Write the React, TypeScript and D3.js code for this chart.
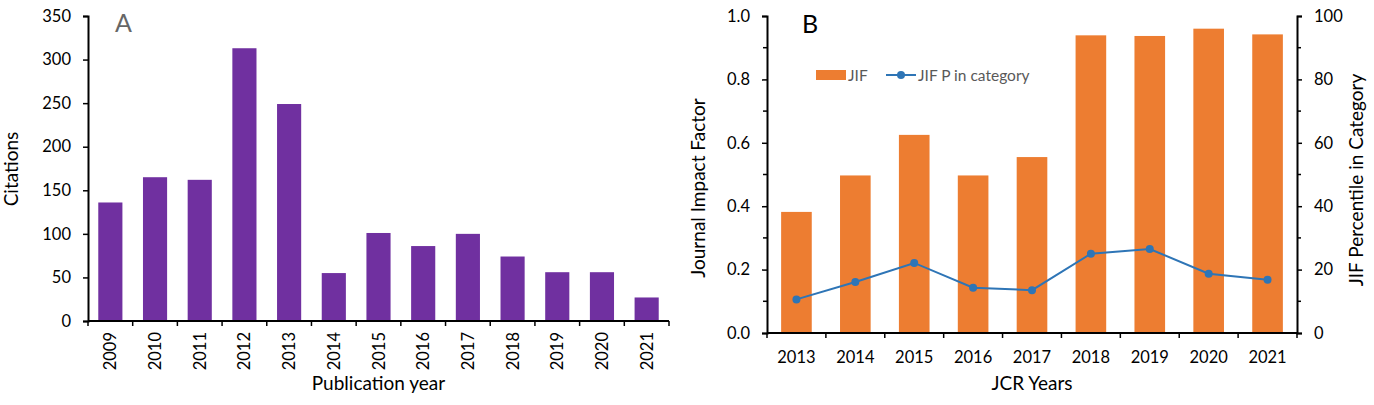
import React, { useRef, useEffect } from 'react';
import { select, scaleBand, scaleLinear, axisLeft, axisRight, line, range, format } from 'd3';

// panel A
const pubYears = ['2009', '2010', '2011', '2012', '2013', '2014', '2015', '2016', '2017', '2018', '2019', '2020', '2021'];
const citations = [136, 165, 162, 313, 249, 55, 101, 86, 100, 74, 56, 56, 27];
const citationTicks = [0, 50, 100, 150, 200, 250, 300, 350];

// panel B
const jcrYears = ['2013', '2014', '2015', '2016', '2017', '2018', '2019', '2020', '2021'];
const jif = [0.382, 0.497, 0.625, 0.497, 0.555, 0.939, 0.937, 0.96, 0.942];
const jifPercentile = [10.6, 16.1, 22.1, 14.3, 13.5, 25.0, 26.5, 18.7, 16.8];
const jifTicks = [0, 0.2, 0.4, 0.6, 0.8, 1.0];
const pctTicks = [0, 20, 40, 60, 80, 100];

const FONT = 'Lato, "Open Sans", sans-serif';
const PURPLE = '#7030A0';
const ORANGE = '#ED7D31';
const BLUE = '#2E75B6';
const TICK_FS = 16.5;

const App: React.FC = () => {
  const svgRef = useRef<SVGSVGElement | null>(null);

  useEffect(() => {
    if (!svgRef.current) return;
    const svg = select(svgRef.current);
    svg.selectAll('*').remove();

    // ---------- A ----------
    const gA = svg.append('g');
    const xA = scaleBand<string>().domain(pubYears).range([88, 669]).paddingInner(0.46).paddingOuter(0.23);
    const yA = scaleLinear().domain([0, 350]).range([321, 16]);

    gA.selectAll('rect.bar')
      .data(pubYears)
      .join('rect')
      .attr('class', 'bar')
      .attr('x', d => xA(d)!)
      .attr('width', xA.bandwidth())
      .attr('y', (d, i) => yA(citations[i]))
      .attr('height', (d, i) => yA(0) - yA(citations[i]))
      .attr('fill', PURPLE);

    const axA = gA.append('g')
      .attr('transform', `translate(88,0)`)
      .call(axisLeft(yA).tickValues(citationTicks).tickSize(5).tickPadding(12));
    axA.select('.domain').attr('stroke-width', 2);
    axA.selectAll('.tick line').attr('stroke-width', 1.5);
    axA.selectAll('.tick text').attr('font-family', FONT).attr('font-size', TICK_FS).attr('fill', '#000');

    // x axis A
    const stepA = xA.step();
    const x0A = 88;
    gA.append('line').attr('x1', x0A).attr('x2', 669).attr('y1', yA(0)).attr('y2', yA(0))
      .attr('stroke', '#000').attr('stroke-width', 2);
    gA.selectAll('line.xt')
      .data(range(pubYears.length + 1))
      .join('line')
      .attr('class', 'xt')
      .attr('x1', i => x0A + i * stepA).attr('x2', i => x0A + i * stepA)
      .attr('y1', yA(0)).attr('y2', yA(0) + 5)
      .attr('stroke', '#000').attr('stroke-width', 1.5);
    gA.selectAll('text.xl')
      .data(pubYears)
      .join('text')
      .attr('class', 'xl')
      .attr('transform', d => `translate(${xA(d)! + xA.bandwidth() / 2 + 6},332) rotate(-90)`)
      .attr('text-anchor', 'end')
      .attr('font-family', FONT).attr('font-size', TICK_FS)
      .text(d => d);

    gA.append('text')
      .attr('x', 378.5).attr('y', 390)
      .attr('text-anchor', 'middle')
      .attr('font-family', FONT).attr('font-size', 19)
      .text('Publication year');
    gA.append('text')
      .attr('transform', `translate(18,169) rotate(-90)`)
      .attr('text-anchor', 'middle')
      .attr('font-family', FONT).attr('font-size', 19)
      .text('Citations');
    gA.append('text')
      .attr('x', 115).attr('y', 32)
      .attr('font-family', FONT).attr('font-size', 25)
      .attr('fill', '#666')
      .text('A');

    // ---------- B ----------
    const gB = svg.append('g');
    const xB = scaleBand<string>().domain(jcrYears).range([767, 1297]).paddingInner(0.48).paddingOuter(0.24);
    const yL = scaleLinear().domain([0, 1]).range([333, 16]);
    const yR = scaleLinear().domain([0, 100]).range([333, 16]);

    gB.selectAll('rect.bar')
      .data(jcrYears)
      .join('rect')
      .attr('class', 'bar')
      .attr('x', d => xB(d)!)
      .attr('width', xB.bandwidth())
      .attr('y', (d, i) => yL(jif[i]))
      .attr('height', (d, i) => yL(0) - yL(jif[i]))
      .attr('fill', ORANGE);

    const cx = (d: string) => xB(d)! + xB.bandwidth() / 2;
    const pts = jcrYears.map((d, i) => [cx(d), yR(jifPercentile[i])] as [number, number]);
    gB.append('path')
      .attr('d', line()(pts))
      .attr('fill', 'none').attr('stroke', BLUE).attr('stroke-width', 2);
    gB.selectAll('circle.pt')
      .data(pts)
      .join('circle')
      .attr('class', 'pt')
      .attr('cx', d => d[0]).attr('cy', d => d[1]).attr('r', 4)
      .attr('fill', BLUE);

    // minor ticks
    gB.selectAll('line.mL')
      .data(range(0.1, 1, 0.2))
      .join('line')
      .attr('class', 'mL')
      .attr('x1', 763).attr('x2', 767).attr('y1', d => yL(d)).attr('y2', d => yL(d))
      .attr('stroke', '#000').attr('stroke-width', 1.5);
    gB.selectAll('line.mR')
      .data(range(10, 100, 20))
      .join('line')
      .attr('class', 'mR')
      .attr('x1', 1297).attr('x2', 1301).attr('y1', d => yR(d)).attr('y2', d => yR(d))
      .attr('stroke', '#000').attr('stroke-width', 1.5);

    const axL = gB.append('g')
      .attr('transform', `translate(767,0)`)
      .call(axisLeft(yL).tickValues(jifTicks).tickFormat(format('.1f')).tickSize(5).tickPadding(12));
    const axR = gB.append('g')
      .attr('transform', `translate(1297,0)`)
      .call(axisRight(yR).tickValues(pctTicks).tickSize(5).tickPadding(12));
    [axL, axR].forEach(ax => {
      ax.select('.domain').attr('stroke-width', 2);
      ax.selectAll('.tick line').attr('stroke-width', 1.5);
      ax.selectAll('.tick text').attr('font-family', FONT).attr('font-size', TICK_FS).attr('fill', '#000');
    });

    const stepB = xB.step();
    gB.append('line').attr('x1', 767).attr('x2', 1297).attr('y1', yL(0)).attr('y2', yL(0))
      .attr('stroke', '#000').attr('stroke-width', 2);
    gB.selectAll('line.xt')
      .data(range(jcrYears.length + 1))
      .join('line')
      .attr('class', 'xt')
      .attr('x1', i => 767 + i * stepB).attr('x2', i => 767 + i * stepB)
      .attr('y1', yL(0)).attr('y2', yL(0) + 5)
      .attr('stroke', '#000').attr('stroke-width', 1.5);
    gB.selectAll('text.xl')
      .data(jcrYears)
      .join('text')
      .attr('class', 'xl')
      .attr('x', d => cx(d)).attr('y', 363)
      .attr('text-anchor', 'middle')
      .attr('font-family', FONT).attr('font-size', TICK_FS)
      .text(d => d);

    gB.append('text')
      .attr('x', 1032).attr('y', 390)
      .attr('text-anchor', 'middle')
      .attr('font-family', FONT).attr('font-size', 19)
      .text('JCR Years');
    gB.append('text')
      .attr('transform', `translate(705,188) rotate(-90)`)
      .attr('text-anchor', 'middle')
      .attr('font-family', FONT).attr('font-size', 19)
      .text('Journal Impact Factor');
    gB.append('text')
      .attr('transform', `translate(1363,180) rotate(-90)`)
      .attr('text-anchor', 'middle')
      .attr('font-family', FONT).attr('font-size', 19)
      .text('JIF Percentile in Category');
    gB.append('text')
      .attr('x', 802).attr('y', 33)
      .attr('font-family', FONT).attr('font-size', 25)
      .attr('fill', '#000')
      .text('B');

    // legend
    const lg = gB.append('g');
    lg.append('rect').attr('x', 816).attr('y', 70).attr('width', 30).attr('height', 10).attr('fill', ORANGE);
    lg.append('text').attr('x', 848).attr('y', 81)
      .attr('font-family', FONT).attr('font-size', 15.5).attr('fill', '#595959').text('JIF');
    lg.append('line').attr('x1', 886).attr('x2', 916).attr('y1', 75).attr('y2', 75)
      .attr('stroke', BLUE).attr('stroke-width', 2);
    lg.append('circle').attr('cx', 901).attr('cy', 75).attr('r', 4).attr('fill', BLUE);
    lg.append('text').attr('x', 918).attr('y', 81)
      .attr('font-family', FONT).attr('font-size', 15.5).attr('fill', '#595959').text('JIF P in category');
  }, []);

  return (
    <svg ref={svgRef} width={1374} height={405}
      style={{ position: 'absolute', left: 0, top: 0, background: '#fff' }} />
  );
};

export default App;
